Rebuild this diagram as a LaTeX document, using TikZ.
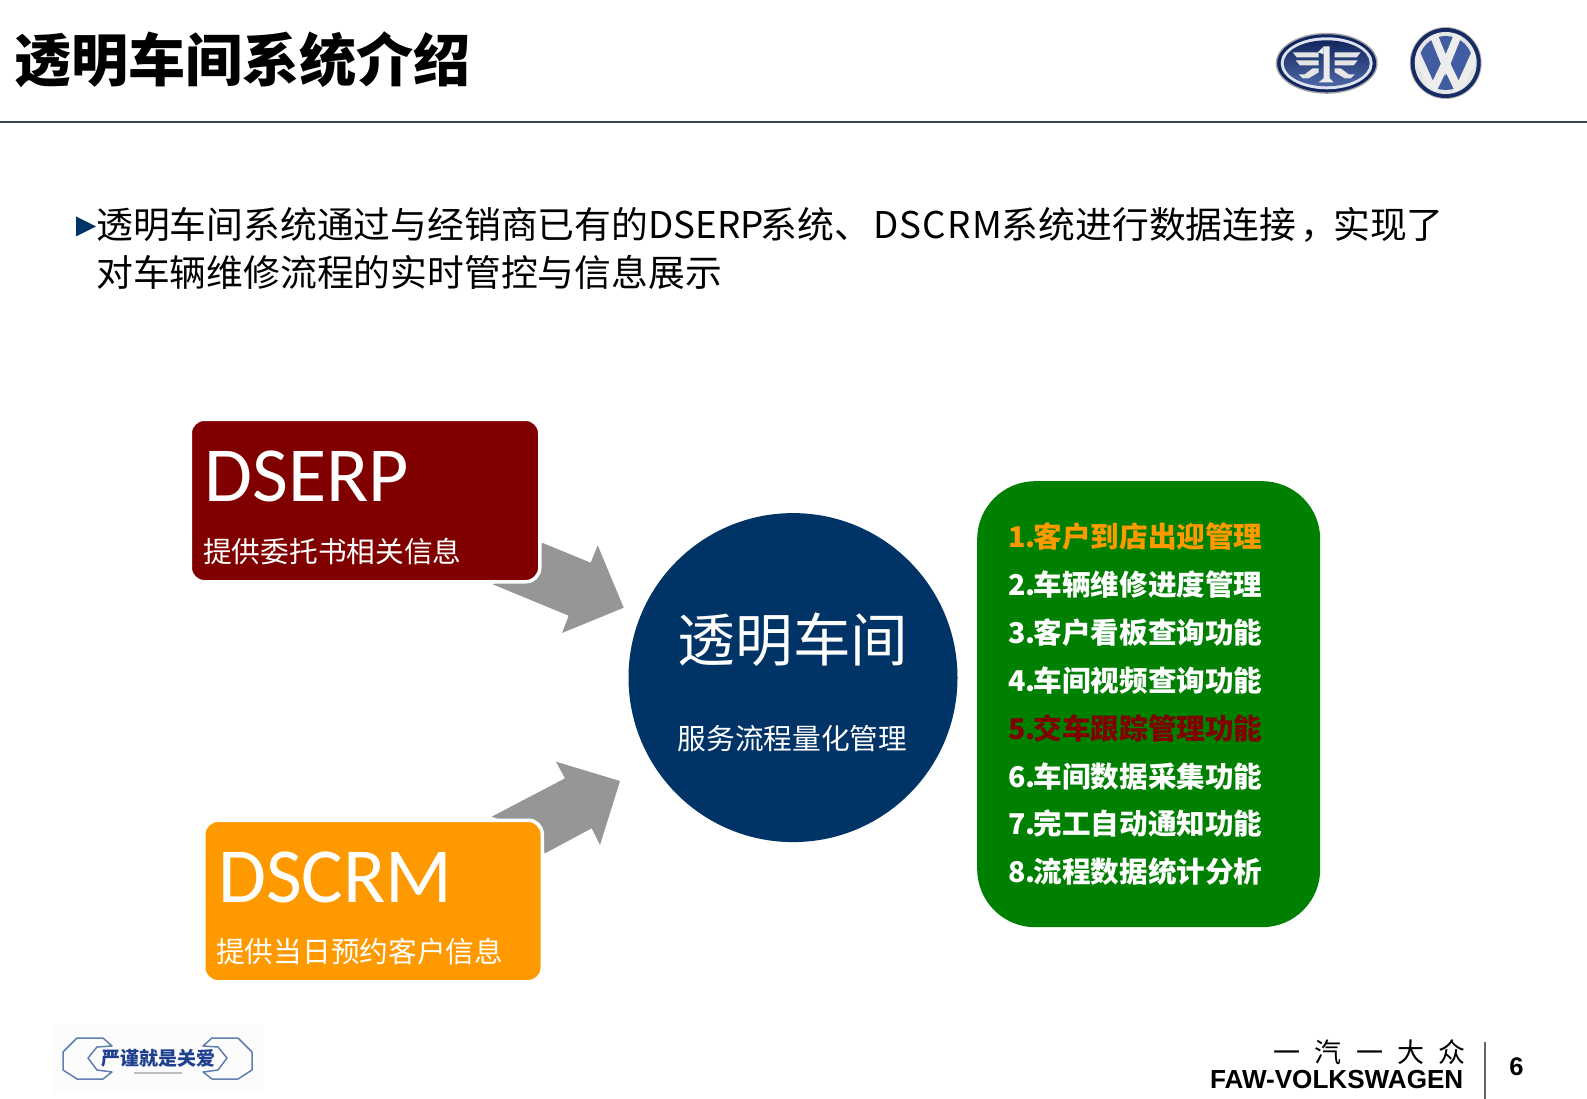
\documentclass[tikz,border=0pt]{standalone}
\usepackage{fontspec}
\setmainfont{Noto Sans CJK SC}
\newfontfamily\arialfont{Liberation Sans}
\newfontfamily\calibrifont{Carlito}
\newcommand{\fsz}[1]{\fontsize{#1pt}{#1pt}\selectfont}
\definecolor{navy}{HTML}{003366}
\definecolor{darkred}{HTML}{800000}
\definecolor{amber}{HTML}{FF9900}
\definecolor{leaf}{HTML}{008000}
\definecolor{headline}{HTML}{3B4650}
\definecolor{arrowgrey}{HTML}{969696}
\definecolor{logoblue}{HTML}{1F3F8F}
\definecolor{logodark}{HTML}{12275F}
\definecolor{wrench}{HTML}{5F7FB0}
\tikzset{
  txt/.style={inner sep=0pt,anchor=west,text depth=0pt},
  bigtitle/.style={txt,font=\fsz{57.1}\bfseries},
  bodytxt/.style={txt,font=\fsz{36.8}},
  boxlabel/.style={inner sep=0pt,anchor=base west,font=\calibrifont\fsz{78},white},
  boxsub/.style={txt,font=\fsz{28.7},white},
  card/.style={anchor=north west,inner sep=0pt,outer sep=0pt,rounded corners=14pt,draw=white,line width=3.5pt},
  blockarrow/.style={fill=arrowgrey,draw=none},
  listitem/.style={txt,font=\fsz{28.6}\bfseries,white},
}
\begin{document}
\begin{tikzpicture}[x=1pt,y=-1pt]
\useasboundingbox (0,0) rectangle (1587,1099);
% header
\node[bigtitle] (title) at (14,56.5) {透明车间系统介绍};
\draw[headline,line width=1.3pt] (0,122) -- (1587,122);
% FAW logo
\begin{scope}[shift={(1326.7,63.3)}]
  \fill[black!35] (0,0) ellipse [x radius=51,y radius=30.5];
  \fill[logodark] (0,0) ellipse [x radius=49.5,y radius=29];
  \fill[white!85!logoblue] (0,0) ellipse [x radius=46,y radius=26];
  \shade[top color=logodark,bottom color=logoblue!80!white] (0,0) ellipse [x radius=43,y radius=23];
  \fill[white!92!black] (-3,-17) -- (3,-17) -- (3,15) -- (7,19) -- (-8,19) -- (-3,15) -- cycle;
  \fill[white!92!black] (-3,-17) -- (-9,-11) -- (-3,-9) -- cycle;
  \foreach \s in {-1,1}{
    \begin{scope}[xscale=\s]
      \fill[white!90!black] (8,-11) -- (34,-11) -- (30,-6) -- (8,-6) -- cycle;
      \fill[white!90!black] (8,-3) -- (31,-3) -- (27,2) -- (8,2) -- cycle;
      \fill[white!90!black] (8,5) -- (14,5) -- (22,11) -- (28,11) -- (24,15) -- (18,15) -- (8,9) -- cycle;
    \end{scope}
  }
\end{scope}
% VW logo
\begin{scope}[shift={(1445.7,63)}]
  \fill[black!30] (0,0) circle [radius=36];
  \shade[inner color=logoblue!70!white,outer color=logodark] (0,0) circle [radius=35];
  \fill[white!90!black] (0,0) circle [radius=31];
  \fill[logoblue!85!white] (0,0) circle [radius=27];
  \begin{scope}
    \clip (0,0) circle [radius=30.5];
    \draw[white!93!black,line width=8pt,line join=miter] (-13,-30) -- (0,2) -- (13,-30);
    \draw[white!93!black,line width=8pt,line join=miter] (-32,-15) -- (-13,27) -- (0,0) -- (13,27) -- (32,-15);
  \end{scope}
\end{scope}
% intro text
\fill[navy] (76,216.5) -- (96,226.5) -- (76,236.5) -- cycle;
\node[bodytxt] (intro1) at (96,222.5) {透明车间系统通过与经销商已有的DSERP\kern-3pt 系统、\kern2pt{\addfontfeature{LetterSpace=3.3}DSCRM}系统进行数据连接\kern4pt ，\kern-4pt 实现了};
\node[bodytxt] (intro2) at (96,270.5) {对车辆维修流程的实时管控与信息展示};
% block arrows
\fill[blockarrow] (542,542.7) -- (590.7,562.7) -- (597.7,545.3) -- (623.7,607.7) -- (562,633) -- (568.7,615.7) -- (492.7,584.3) -- (530,570) -- cycle;
\fill[blockarrow] (491.7,816.7) -- (565,778.3) -- (556,761.7) -- (620,781) -- (600,845) -- (591.7,828.3) -- (545,853.3) -- (530,830) -- cycle;
% source boxes
\node[card,fill=darkred,minimum width=349.5pt,minimum height=162.5pt] (dserp) at (190.25,419.25) {};
\node[card,fill=amber,minimum width=338.5pt,minimum height=161.5pt] (dscrm) at (203.75,820.25) {};
\node[boxlabel] (dserpt) at (204.5,501.7) {DSERP};
\node[boxsub] (dserps) at (203,550) {提供委托书相关信息};
\node[boxlabel] (dscrmt) at (218,902) {DSCRM};
\node[boxsub] (dscrms) at (216,950) {提供当日预约客户信息};
% circle
\node[circle,fill=navy,minimum size=329pt,inner sep=0pt] (hub) at (793,677.6) {};
\node[font=\fsz{57.6},white,inner sep=0pt] (hubt) at (793,639.5) {透明车间};
\node[font=\fsz{28.7},white,inner sep=0pt] (hubs) at (792.5,739) {服务流程量化管理};
% green list
\node[anchor=north west,fill=leaf,rounded corners=58pt,minimum width=343pt,minimum height=446pt,inner sep=0pt] (list) at (977,481) {};
\node[listitem,amber] (l1) at (1008,535.5) {1.\kern-2pt 客户到店出迎管理};
\node[listitem] (l2) at (1008,583) {2.\kern-2pt 车辆维修进度管理};
\node[listitem] (l3) at (1008,631.5) {3.\kern-2pt 客户看板查询功能};
\node[listitem] (l4) at (1008,679) {4.\kern-2pt 车间视频查询功能};
\node[listitem,darkred] (l5) at (1008,727) {5.\kern-2pt 交车跟踪管理功能};
\node[listitem] (l6) at (1008,775) {6.\kern-2pt 车间数据采集功能};
\node[listitem] (l7) at (1008,822.5) {7.\kern-2pt 完工自动通知功能};
\node[listitem] (l8) at (1008,870) {8.\kern-2pt 流程数据统计分析};
% bottom-left logo
\fill[black!1] (52,1025) rectangle (263,1093);
\begin{scope}[wrench,line width=1.5pt,line join=round]
  \draw (63,1052) -- (77,1038) -- (103,1038) -- (112,1046) -- (97,1047) -- (88,1058) -- (97,1070) -- (112,1072) -- (103,1079) -- (77,1079) -- (63,1070) -- cycle;
  \draw (252,1052) -- (238,1038) -- (212,1038) -- (203,1046) -- (218,1047) -- (227,1058) -- (218,1070) -- (203,1072) -- (212,1079) -- (238,1079) -- (252,1070) -- cycle;
\end{scope}
\node[font=\fsz{19}\bfseries,text=logoblue,inner sep=0pt] (slogan) at (158,1058) {严谨就是关爱};
\draw[black!25,line width=1.5pt] (134,1073) -- (182,1073);
% footer
\node[inner sep=0pt,anchor=east,font=\fsz{27}] (brandcn) at (1466,1052) {一\hspace{14.3pt}汽\hspace{14.3pt}一\hspace{14.3pt}大\hspace{14.3pt}众};
\node[inner sep=0pt,anchor=east,font=\arialfont\fsz{26.1}\bfseries] (branden) at (1463.5,1080) {FAW-VOLKSWAGEN};
\coordinate (ruletop) at (1485,1042);
\coordinate (rulebot) at (1485,1099);
\draw[black!60,line width=1.3pt] (ruletop) -- (rulebot);
\node[inner sep=0pt,font=\arialfont\fsz{25.5}\bfseries] (pageno) at (1516.5,1067) {6};
\end{tikzpicture}
\end{document}
